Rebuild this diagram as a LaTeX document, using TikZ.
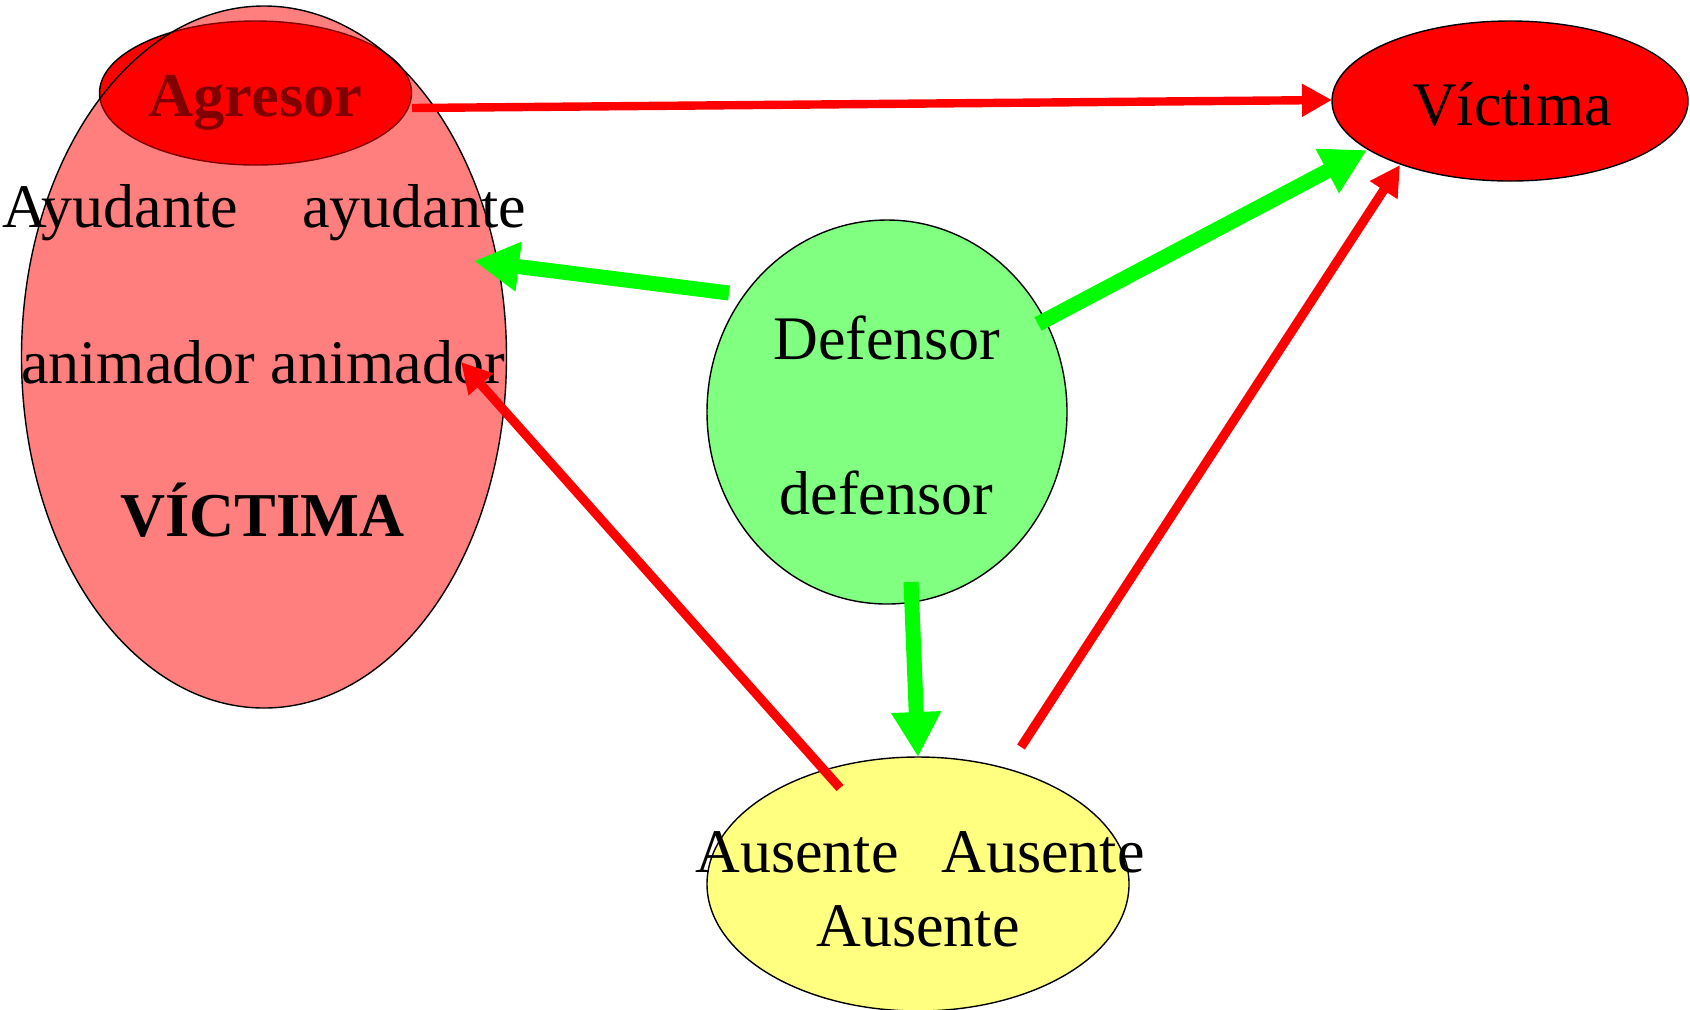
\documentclass[tikz,border=0pt]{standalone}
\usepackage{fontspec}
\setmainfont{Liberation Serif}
\usetikzlibrary{shapes.geometric,arrows.meta}
\definecolor{lightgreen}{HTML}{80FF80}
\definecolor{lightyellow}{HTML}{FFFF80}
\definecolor{brightgreen}{HTML}{00FF00}
\tikzset{
  oval/.style={ellipse, draw=black, line width=0.7pt, inner sep=0pt},
  lbl/.style={font=\fontsize{31}{36}\selectfont, inner sep=0pt, anchor=base},
  blbl/.style={lbl, font=\fontsize{31.2}{36}\selectfont\bfseries},
  redarrow/.style={draw=red, line width=4.6pt, -{Triangle[length=15pt,width=15.5pt]}},
  greenarrow/.style={draw=brightgreen, line width=7.5pt, -{Triangle[length=22.5pt,width=23.5pt]}}
}
\begin{document}
\begin{tikzpicture}[x=0.5pt,y=-0.5pt]
\useasboundingbox (0,0) rectangle (1690,1009);
% ellipses
\node[oval, fill=red, minimum width=156pt, minimum height=72pt] (agr) at (255.5,93) {};
\node[blbl, text=black] (tagr) at (255.5,116) {Agresor};
\node[oval, fill=red, fill opacity=0.5, draw opacity=1, minimum width=242.5pt, minimum height=351pt] (grupo) at (264,357) {};
\node[oval, fill=red, minimum width=178pt, minimum height=80pt] (vic) at (1510,101) {};
\node[oval, fill=lightgreen, minimum width=180pt, minimum height=192pt] (def) at (887,412) {};
\node[oval, fill=lightyellow, minimum width=211pt, minimum height=127pt] (aus) at (918,884) {};
% texts
\node[lbl] (tvic) at (1512,125) {Víctima};
\node[lbl, anchor=base west] (tay1) at (2,227) {Ayudante};
\node[lbl, anchor=base west] (tay2) at (302,227) {ayudante};
\node[lbl] (tani) at (263,383) {animador animador};
\node[blbl] (tvictima) at (262.5,536) {VÍCTIMA};
\node[lbl] (tdef1) at (887,359) {Defensor};
\node[lbl] (tdef2) at (886.5,514) {defensor};
\node[lbl, anchor=base west] (taus1) at (695,872) {Ausente};
\node[lbl, anchor=base west] (taus2) at (941,872) {Ausente};
\node[lbl] (taus3) at (918,946) {Ausente};
% connector ends
\coordinate (a1s) at (412,108);
\coordinate (a1e) at (1332,100);
\coordinate (g1s) at (729,293);
\coordinate (g1e) at (474,261);
\coordinate (g2s) at (1038,324);
\coordinate (g2e) at (1367,150);
\coordinate (g3s) at (911,582);
\coordinate (g3e) at (918,757);
\coordinate (r2s) at (840,788);
\coordinate (r2e) at (461,362);
\coordinate (r3s) at (1021,747);
\coordinate (r3e) at (1400,165);
% arrows
\draw[redarrow, line width=4.2pt] (a1s) -- (a1e);
\draw[greenarrow] (g1s) -- (g1e);
\draw[greenarrow] (g2s) -- (g2e);
\draw[greenarrow] (g3s) -- (g3e);
\draw[redarrow] (r2s) -- (r2e);
\draw[redarrow] (r3s) -- (r3e);
\end{tikzpicture}
\end{document}
